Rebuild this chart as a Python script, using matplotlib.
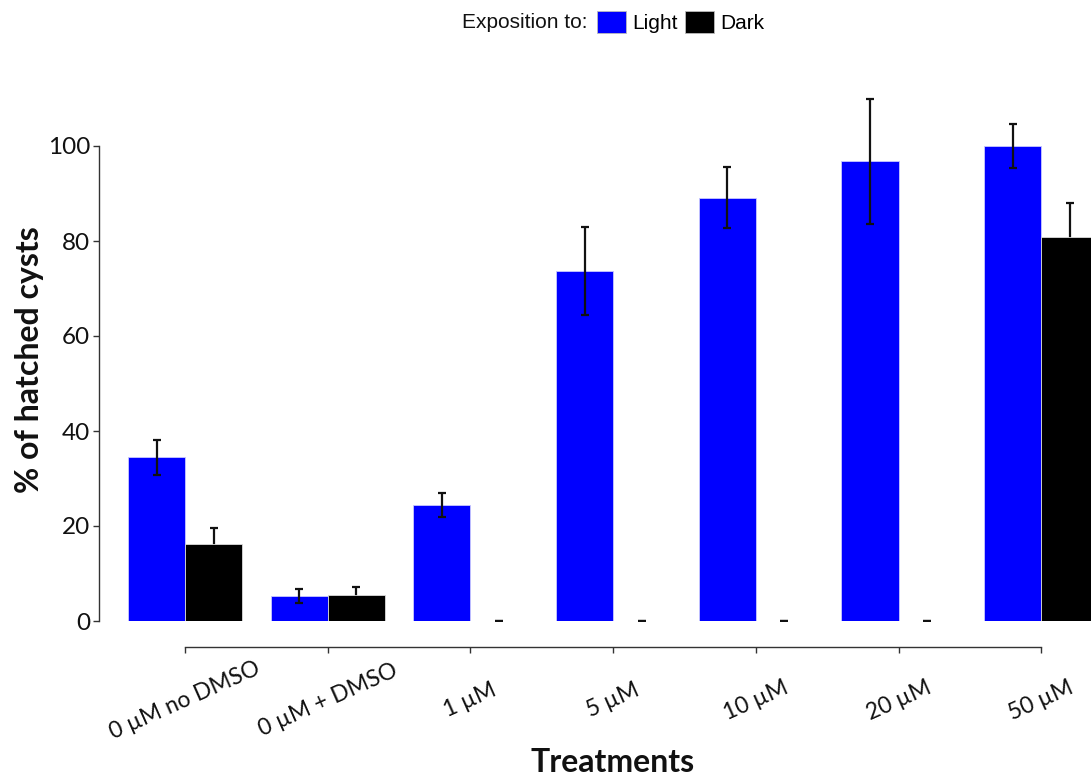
import matplotlib
matplotlib.use("Agg")
import matplotlib.pyplot as plt
from matplotlib.patches import Patch
import numpy as np

categories = ["0 µM no DMSO", "0 µM + DMSO", "1 µM", "5 µM", "10 µM", "20 µM", "50 µM"]
light_vals = [34.5, 5.3, 24.4, 73.7, 89.1, 96.8, 100.0]
light_err = [3.7, 1.5, 2.6, 9.2, 6.4, 13.2, 4.7]
dark_vals = [16.2, 5.5, 0.0, 0.0, 0.0, 0.0, 80.8]
dark_err = [3.4, 1.7, 0.0, 0.0, 0.0, 0.0, 7.1]
yticks = [0, 20, 40, 60, 80, 100]

plt.rcParams['font.family'] = ['Lato', 'DejaVu Sans']

fig = plt.figure(figsize=(10.91, 7.77), dpi=100)
ax_h = (621 - 60.5)
ax = fig.add_axes([99 / 1091, (777 - 621) / 777, 1 - 99 / 1091, ax_h / 777])

x = np.arange(len(categories))
w = 0.4
ax.bar(x - w / 2, light_vals, width=w, color='#0000FF', edgecolor='#c8c8ff', linewidth=0.6, zorder=2)
ax.bar(x + w / 2, dark_vals, width=w, color='#000000', edgecolor='#dcdcdc', linewidth=0.6, zorder=2)
ax.errorbar(x - w / 2, light_vals, yerr=light_err, fmt='none', ecolor='#111111',
            elinewidth=1.6, capsize=2.6, capthick=1.6, zorder=3)
ax.errorbar(x + w / 2, dark_vals, yerr=dark_err, fmt='none', ecolor='#111111',
            elinewidth=1.6, capsize=2.6, capthick=1.6, zorder=1.5)

ax.set_xlim(-0.603, 6.349)
ax.set_ylim(0, 118)

for s in ['top', 'right']:
    ax.spines[s].set_visible(False)
ax.spines['left'].set_bounds(0, 100)
ax.spines['bottom'].set_position(('outward', 18.7))
ax.spines['bottom'].set_bounds(0, 6)
for s in ['left', 'bottom']:
    ax.spines[s].set_color('#333333')
    ax.spines[s].set_linewidth(1.0)

ax.set_yticks(yticks)
ax.set_yticklabels([str(v) for v in yticks])
ax.set_xticks(x)
ax.set_xticklabels(categories, rotation=24, ha='center', va='center')
ax.tick_params(axis='both', length=4.5, width=1.0, color='#333333', labelcolor='#111111')
ax.tick_params(axis='y', labelsize=17.5, pad=2)
ax.tick_params(axis='x', labelsize=16.5, pad=34)

ax.set_ylabel("% of hatched cysts", fontsize=23, fontweight='bold', color='#111111')
ax.set_xlabel("Treatments", fontsize=23, fontweight='bold', color='#111111')
ax.yaxis.label.set_va('center')
ax.xaxis.label.set_va('center')
ax.yaxis.set_label_coords((30 - 99) / 992, (621 - 360) / ax_h)
ax.xaxis.set_label_coords((613 - 99) / 992, (621 - 763) / ax_h)

fig.text(588 / 1091, 1 - 22 / 777, "Exposition to:", fontsize=15, ha='right', va='center',
         family=['Liberation Sans', 'DejaVu Sans'], color='#111111')
handles = [Patch(facecolor='#0000FF', edgecolor='#bbbbbb', linewidth=0.6),
           Patch(facecolor='#000000', edgecolor='#bbbbbb', linewidth=0.6)]
leg = fig.legend(handles, ["Light", "Dark"], loc='center left',
                 bbox_to_anchor=(597 / 1091, 1 - 22 / 777), ncol=2, frameon=False,
                 handlelength=1.4, handleheight=1.3, handletextpad=0.3, columnspacing=0.35,
                 borderpad=0, borderaxespad=0,
                 prop={'family': ['Liberation Sans', 'DejaVu Sans'], 'size': 15})

fig.savefig("out.png", dpi=100)
